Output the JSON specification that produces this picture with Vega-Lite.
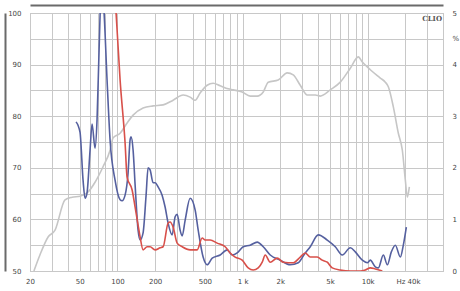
{
  "$schema": "https://vega.github.io/schema/vega-lite/v6.json",
  "width": 413,
  "height": 258,
  "autosize": {"type": "none"},
  "padding": {"left": 30, "top": 13, "right": 17, "bottom": 20},
  "background": "white",
  "config": {
    "view": {"stroke": "#b4b4b4", "strokeWidth": 1},
    "axis": {"labelFont": "DejaVu Sans", "labelFontSize": 7, "labelColor": "#444", "gridColor": "#c8c8c8", "gridWidth": 1, "gridOpacity": 1}
  },
  "datasets": {
    "fr": [
      {"f": 21.5, "db": 50.0}, {"f": 24, "db": 53.1}, {"f": 27.9, "db": 56.6}, {"f": 31.7, "db": 57.9}, {"f": 38.1, "db": 63.8},
      {"f": 43.4, "db": 64.3}, {"f": 50.2, "db": 64.5}, {"f": 58.2, "db": 65.3}, {"f": 66.2, "db": 67.2}, {"f": 76.7, "db": 70.2},
      {"f": 87.3, "db": 73.4}, {"f": 92.3, "db": 75.8}, {"f": 105, "db": 76.7}, {"f": 119.4, "db": 78.7}, {"f": 133.4, "db": 80.2},
      {"f": 160.3, "db": 81.6}, {"f": 192.7, "db": 82.0}, {"f": 231.8, "db": 82.2}, {"f": 278.6, "db": 83.1}, {"f": 335, "db": 84.1},
      {"f": 381, "db": 83.7}, {"f": 418, "db": 83.1}, {"f": 458, "db": 84.5}, {"f": 521, "db": 86.0}, {"f": 582, "db": 86.4},
      {"f": 662, "db": 85.9}, {"f": 767, "db": 85.3}, {"f": 842, "db": 85.1}, {"f": 993, "db": 84.7}, {"f": 1151, "db": 83.9},
      {"f": 1309, "db": 83.9}, {"f": 1463, "db": 84.7}, {"f": 1604, "db": 86.6}, {"f": 1928, "db": 87.0}, {"f": 2276, "db": 88.4},
      {"f": 2542, "db": 88.0}, {"f": 2891, "db": 86.0}, {"f": 3288, "db": 84.1}, {"f": 3811, "db": 84.1}, {"f": 4179, "db": 83.9},
      {"f": 5024, "db": 85.1}, {"f": 6040, "db": 86.6}, {"f": 7262, "db": 89.3}, {"f": 8418, "db": 91.5}, {"f": 9064, "db": 90.5},
      {"f": 10495, "db": 89.0}, {"f": 12619, "db": 87.4}, {"f": 13837, "db": 86.6}, {"f": 14626, "db": 85.7}, {"f": 16036, "db": 81.8},
      {"f": 17584, "db": 76.7}, {"f": 18928, "db": 73.4}, {"f": 20000, "db": 67.6}, {"f": 20752, "db": 64.3}, {"f": 21531, "db": 66.3}
    ],
    "thd": [
      {"s": "b", "f": 46.7, "p": 2.89}, {"s": "b", "f": 50.2, "p": 2.69}, {"s": "b", "f": 53.1, "p": 1.76}, {"s": "b", "f": 55.1, "p": 1.41},
      {"s": "b", "f": 57.1, "p": 1.51}, {"s": "b", "f": 60.4, "p": 2.34}, {"s": "b", "f": 62.7, "p": 2.85}, {"s": "b", "f": 66.2, "p": 2.38},
      {"s": "b", "f": 68.7, "p": 2.93}, {"s": "b", "f": 71.3, "p": 4.28}, {"s": "b", "f": 74.7, "p": 5.6}, {"s": "b", "f": 78.2, "p": 5.0},
      {"s": "b", "f": 82.6, "p": 3.70}, {"s": "b", "f": 87.3, "p": 2.54}, {"s": "b", "f": 95.7, "p": 1.76}, {"s": "b", "f": 105, "p": 1.38},
      {"s": "b", "f": 108.9, "p": 1.36}, {"s": "b", "f": 115.1, "p": 1.47}, {"s": "b", "f": 121.6, "p": 1.90}, {"s": "b", "f": 126.2, "p": 2.54},
      {"s": "b", "f": 128.6, "p": 2.60}, {"s": "b", "f": 133.4, "p": 2.34}, {"s": "b", "f": 138.4, "p": 1.67}, {"s": "b", "f": 146.2, "p": 0.79},
      {"s": "b", "f": 151.7, "p": 0.60}, {"s": "b", "f": 160.3, "p": 0.74}, {"s": "b", "f": 169.4, "p": 1.47}, {"s": "b", "f": 175.8, "p": 2.00},
      {"s": "b", "f": 182.4, "p": 1.96}, {"s": "b", "f": 192.7, "p": 1.71}, {"s": "b", "f": 200, "p": 1.71}, {"s": "b", "f": 211.4, "p": 1.63},
      {"s": "b", "f": 227.5, "p": 1.47}, {"s": "b", "f": 240.4, "p": 1.24}, {"s": "b", "f": 254.1, "p": 0.93}, {"s": "b", "f": 273.5, "p": 0.70},
      {"s": "b", "f": 289.1, "p": 1.05}, {"s": "b", "f": 300, "p": 1.10}, {"s": "b", "f": 317, "p": 0.79}, {"s": "b", "f": 329, "p": 0.68},
      {"s": "b", "f": 348, "p": 0.99}, {"s": "b", "f": 381, "p": 1.41}, {"s": "b", "f": 418, "p": 1.18}, {"s": "b", "f": 442, "p": 0.79},
      {"s": "b", "f": 484, "p": 0.27}, {"s": "b", "f": 521, "p": 0.12}, {"s": "b", "f": 572, "p": 0.25}, {"s": "b", "f": 662, "p": 0.31},
      {"s": "b", "f": 753, "p": 0.41}, {"s": "b", "f": 826, "p": 0.31}, {"s": "b", "f": 906, "p": 0.35}, {"s": "b", "f": 1012, "p": 0.47},
      {"s": "b", "f": 1151, "p": 0.50}, {"s": "b", "f": 1309, "p": 0.56}, {"s": "b", "f": 1463, "p": 0.47}, {"s": "b", "f": 1664, "p": 0.31},
      {"s": "b", "f": 2000, "p": 0.21}, {"s": "b", "f": 2405, "p": 0.12}, {"s": "b", "f": 2787, "p": 0.16}, {"s": "b", "f": 3170, "p": 0.35},
      {"s": "b", "f": 3476, "p": 0.47}, {"s": "b", "f": 4028, "p": 0.70}, {"s": "b", "f": 4754, "p": 0.60}, {"s": "b", "f": 5509, "p": 0.47},
      {"s": "b", "f": 6267, "p": 0.31}, {"s": "b", "f": 7262, "p": 0.45}, {"s": "b", "f": 7962, "p": 0.37}, {"s": "b", "f": 9064, "p": 0.21},
      {"s": "b", "f": 9937, "p": 0.16}, {"s": "b", "f": 10495, "p": 0.21}, {"s": "b", "f": 11508, "p": 0.08}, {"s": "b", "f": 12163, "p": 0.06},
      {"s": "b", "f": 13337, "p": 0.31}, {"s": "b", "f": 14356, "p": 0.12}, {"s": "b", "f": 15453, "p": 0.37}, {"s": "b", "f": 16636, "p": 0.50},
      {"s": "b", "f": 18243, "p": 0.27}, {"s": "b", "f": 19271, "p": 0.50}, {"s": "b", "f": 20371, "p": 0.85},
      {"s": "r", "f": 90.5, "p": 6.0}, {"s": "r", "f": 97.5, "p": 5.0}, {"s": "r", "f": 105, "p": 3.70}, {"s": "r", "f": 115.1, "p": 2.48},
      {"s": "r", "f": 119.4, "p": 1.82}, {"s": "r", "f": 131, "p": 1.57}, {"s": "r", "f": 138.4, "p": 1.24}, {"s": "r", "f": 146.2, "p": 0.89},
      {"s": "r", "f": 151.7, "p": 0.66}, {"s": "r", "f": 160.3, "p": 0.41}, {"s": "r", "f": 172.6, "p": 0.47}, {"s": "r", "f": 182.4, "p": 0.47},
      {"s": "r", "f": 200, "p": 0.41}, {"s": "r", "f": 219.3, "p": 0.45}, {"s": "r", "f": 231.8, "p": 0.47}, {"s": "r", "f": 254.1, "p": 0.93},
      {"s": "r", "f": 263.6, "p": 0.95}, {"s": "r", "f": 278.6, "p": 0.85}, {"s": "r", "f": 300, "p": 0.54}, {"s": "r", "f": 329, "p": 0.47},
      {"s": "r", "f": 381, "p": 0.41}, {"s": "r", "f": 433.5, "p": 0.41}, {"s": "r", "f": 475.5, "p": 0.64}, {"s": "r", "f": 502.4, "p": 0.60},
      {"s": "r", "f": 551, "p": 0.60}, {"s": "r", "f": 627, "p": 0.54}, {"s": "r", "f": 726, "p": 0.47}, {"s": "r", "f": 796, "p": 0.35},
      {"s": "r", "f": 873, "p": 0.27}, {"s": "r", "f": 993, "p": 0.21}, {"s": "r", "f": 1109, "p": 0.06}, {"s": "r", "f": 1216, "p": 0.02},
      {"s": "r", "f": 1334, "p": 0.06}, {"s": "r", "f": 1436, "p": 0.17}, {"s": "r", "f": 1517, "p": 0.31}, {"s": "r", "f": 1664, "p": 0.17},
      {"s": "r", "f": 1893, "p": 0.25}, {"s": "r", "f": 2113, "p": 0.17}, {"s": "r", "f": 2542, "p": 0.16}, {"s": "r", "f": 2891, "p": 0.27},
      {"s": "r", "f": 3170, "p": 0.35}, {"s": "r", "f": 3476, "p": 0.27}, {"s": "r", "f": 3955, "p": 0.27}, {"s": "r", "f": 4335, "p": 0.21},
      {"s": "r", "f": 4754, "p": 0.17}, {"s": "r", "f": 5213, "p": 0.06}, {"s": "r", "f": 6040, "p": 0.02}, {"s": "r", "f": 7262, "p": 0.0},
      {"s": "r", "f": 8730, "p": 0.0}, {"s": "r", "f": 9571, "p": 0.02}, {"s": "r", "f": 10495, "p": 0.06}, {"s": "r", "f": 11508, "p": 0.04},
      {"s": "r", "f": 13092, "p": 0.0}
    ],
    "logo": [{"f": 40000, "db": 100, "t": "CLIO"}]
  },
  "layer": [
    {
      "data": {"name": "fr"},
      "mark": {"type": "line", "color": "#c6c6c6", "strokeWidth": 1.6, "interpolate": "monotone", "clip": true},
      "encoding": {
        "x": {
          "field": "f", "type": "quantitative",
          "scale": {"type": "log", "domain": [20, 40000], "nice": false},
          "axis": {
            "orient": "bottom", "title": null, "grid": true, "ticks": false, "domain": false,
            "values": [20, 30, 40, 50, 60, 70, 80, 90, 100, 200, 300, 400, 500, 600, 700, 800, 900, 1000, 2000, 3000, 4000, 5000, 6000, 7000, 8000, 9000, 10000, 20000, 30000, 40000],
            "labelExpr": "datum.value==20?'20':datum.value==50?'50':datum.value==100?'100':datum.value==200?'200':datum.value==500?'500':datum.value==1000?'1 k':datum.value==2000?'2k':datum.value==5000?'5k':datum.value==10000?'10k':datum.value==40000?'Hz 40k':''",
            "labelOverlap": false, "labelFlush": false, "labelBound": false, "labelPadding": 6,
            "labelAlign": {"condition": {"test": "datum.value == 40000", "value": "right"}, "value": "center"},
            "labelOffset": {"condition": {"test": "datum.value == 40000", "value": -23}, "value": 0}
          }
        },
        "y": {
          "field": "db", "type": "quantitative",
          "scale": {"domain": [50, 100], "nice": false, "zero": false},
          "axis": {
            "orient": "left", "title": null, "grid": false, "ticks": false, "tickSize": 0,
            "values": [50, 60, 70, 80, 90, 100],
            "offset": 25, "domain": true, "domainColor": "#6a6a6a", "domainWidth": 2,
            "labelPadding": -16, "labelAlign": "right"
          }
        }
      }
    },
    {
      "data": {"name": "thd"},
      "mark": {"type": "line", "strokeWidth": 1.6, "interpolate": "monotone", "clip": true},
      "encoding": {
        "x": {
          "field": "f", "type": "quantitative",
          "scale": {"type": "log", "domain": [20, 40000], "nice": false},
          "axis": {"orient": "top", "title": null, "grid": false, "ticks": false, "labels": false, "offset": 8, "domain": true, "domainColor": "#6a6a6a", "domainWidth": 2}
        },
        "y": {
          "field": "p", "type": "quantitative",
          "scale": {"domain": [0, 5], "nice": false},
          "axis": {
            "orient": "right", "title": null, "grid": true, "ticks": false, "domain": false,
            "values": [0, 0.5, 1, 1.5, 2, 2.5, 3, 3.5, 4, 4.5, 5],
            "labelExpr": "datum.value==4.5?'%':(datum.value%1==0?format(datum.value,'d'):'')",
            "labelPadding": 9, "labelAlign": "left"
          }
        },
        "color": {
          "field": "s", "type": "nominal",
          "scale": {"domain": ["b", "r"], "range": ["#55609f", "#d8504a"]},
          "legend": null
        }
      }
    },
    {
      "data": {"name": "logo"},
      "mark": {"type": "text", "align": "right", "baseline": "top", "dx": -1, "dy": 2, "font": "DejaVu Serif", "fontSize": 7, "fontWeight": "bold", "color": "#555"},
      "encoding": {
        "x": {"field": "f", "type": "quantitative", "scale": {"type": "log", "domain": [20, 40000], "nice": false}, "axis": null},
        "y": {"field": "db", "type": "quantitative", "scale": {"domain": [50, 100], "nice": false, "zero": false}, "axis": null},
        "text": {"field": "t"}
      }
    }
  ],
  "resolve": {"scale": {"y": "independent"}, "axis": {"x": "independent", "y": "independent"}}
}
